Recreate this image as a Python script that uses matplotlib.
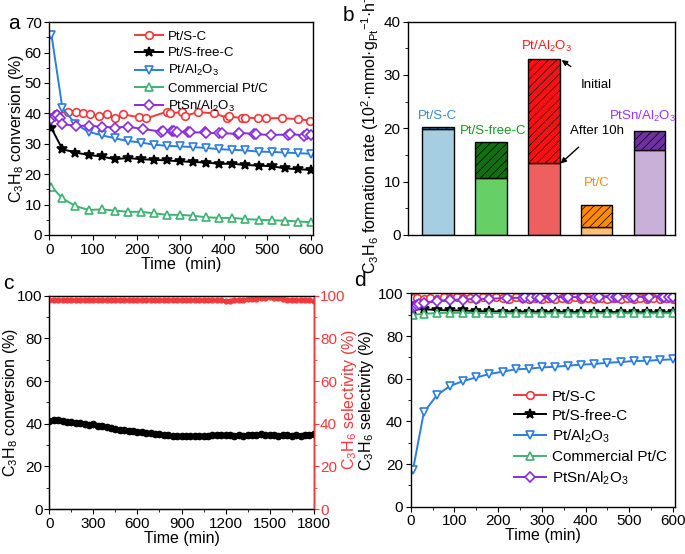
import numpy as np
import matplotlib.pyplot as plt
from matplotlib.ticker import MultipleLocator

plt.rcParams['font.family'] = ['Liberation Sans', 'DejaVu Sans']
plt.rcParams['mathtext.default'] = 'regular'
plt.rcParams['xtick.labelsize'] = 11
plt.rcParams['ytick.labelsize'] = 11
plt.rcParams['axes.labelsize'] = 11.5
plt.rcParams['hatch.linewidth'] = 0.5

# ---- panel a: C3H8 conversion vs time
t_a = [5, 30, 60, 90, 120, 150, 180, 210, 240, 270, 300, 330, 360, 390, 420, 450, 480, 510, 540, 570, 600]
t_psc = [15, 43, 61, 77, 94, 113, 132, 150, 169, 205, 222, 271, 276, 304, 311, 342, 377, 408, 413, 442, 450,
         478, 497, 533, 570, 599]
conv_psc = [39.8, 40.6, 40.6, 40.0, 39.8, 39.2, 39.8, 38.3, 39.7, 38.7, 38.3, 40.6, 40.0, 40.4, 39.2, 40.4,
            40.0, 38.6, 39.0, 38.4, 38.6, 38.4, 38.4, 38.4, 38.1, 37.6]
conv_psfc = [35.1, 28.2, 27.1, 26.3, 25.8, 24.9, 25.3, 24.9, 24.7, 24.5, 24.2, 24.0, 23.8, 23.4, 23.4, 23.0,
             22.8, 22.6, 21.9, 21.6, 21.4]
conv_al = [65.8, 41.7, 36.5, 33.9, 32.8, 31.8, 30.9, 30.4, 29.7, 29.3, 29.1, 28.9, 28.6, 28.2, 28.0, 27.8,
           27.4, 27.3, 27.1, 26.9, 26.7]
conv_com = [15.9, 12.0, 9.5, 8.2, 8.4, 8.0, 7.6, 7.6, 7.1, 6.6, 6.6, 6.3, 5.8, 5.6, 5.6, 5.2, 5.0, 4.8, 4.7,
            4.4, 4.2]
t_ptsn = [5, 13, 18, 24, 30, 61, 90, 121, 151, 180, 216, 256, 260, 281, 286, 294, 319, 322, 357, 360, 389,
          395, 433, 436, 469, 474, 509, 547, 552, 585, 590, 600]
conv_ptsn = [38.1, 39.0, 39.5, 38.4, 36.4, 35.9, 35.9, 35.6, 35.3, 35.6, 34.8, 34.0, 34.2, 34.3, 34.2, 34.0,
             33.9, 33.7, 33.7, 33.5, 33.5, 33.5, 33.2, 33.6, 33.2, 33.1, 32.9, 33.0, 33.2, 32.7, 33.2, 33.0]

# ---- panel b: C3H6 formation rate
cats = ['Pt/S-C', 'Pt/S-free-C', 'Pt/Al$_2$O$_3$', 'Pt/C', 'PtSn/Al$_2$O$_3$']
rate_initial = [20.3, 17.4, 33.0, 5.7, 19.5]
rate_10h = [19.8, 10.7, 13.4, 1.4, 16.0]

# ---- panel c: long-term Pt/S-C
t_c = np.arange(0, 1801, 30)
conv_c = [41.4, 41.8, 42.0, 41.5, 41.0, 40.7, 40.4, 40.3, 39.9, 39.6, 39.8, 39.2, 38.9, 38.5, 38.2, 37.6,
          37.3, 37.2, 36.8, 36.5, 36.3, 36.1, 35.9, 35.6, 35.3, 35.0, 34.8, 34.6, 34.5, 34.4, 34.3, 34.2,
          34.3, 34.3, 34.4, 34.3, 34.4, 34.6, 34.8, 34.7, 34.7, 34.6, 34.5, 34.6, 34.4, 34.7, 34.9, 34.9,
          35.0, 34.9, 34.8, 34.6, 34.5, 34.7, 34.6, 34.5, 34.6, 34.5, 34.6, 34.8, 35.3]
sel_c = [98.0, 98.1, 98.0, 98.0, 98.1, 98.0, 98.0, 98.1, 98.0, 98.0, 98.0, 98.1, 98.0, 98.0, 98.0, 98.1,
         98.0, 98.0, 98.0, 98.1, 98.0, 98.0, 98.1, 98.0, 98.0, 98.0, 98.0, 98.1, 98.0, 98.0, 98.0, 98.1,
         98.0, 97.9, 98.0, 98.0, 98.1, 98.0, 98.0, 98.0, 97.4, 97.8, 98.0, 98.1, 98.2, 98.3, 98.4, 98.6,
         98.9, 99.2, 99.3, 98.8, 99.1, 98.4, 98.2, 98.0, 98.0, 97.9, 98.0, 97.9, 97.8]

# ---- panel d: C3H6 selectivity vs time
t_d = [5, 30, 60, 90, 120, 150, 180, 210, 240, 270, 300, 330, 360, 390, 420, 450, 480, 510, 540, 570, 600]
t_psc_d = [5, 15, 30, 45, 60, 75, 90, 105, 120, 135, 150, 165, 180, 195, 210, 225, 240, 255, 270, 285, 300,
           315, 330, 345, 360, 375, 390, 405, 420, 435, 450, 465, 480, 495, 510, 525, 540, 555, 570, 585, 600]
sel_psc = [97.8, 98.0, 97.4, 98.0, 97.6, 98.1, 97.8, 98.2, 97.7, 98.0, 97.6, 98.1, 97.8, 98.2, 97.9, 97.6,
           98.1, 97.8, 97.3, 97.9, 97.5, 98.0, 97.4, 98.0, 97.6, 98.1, 97.5, 98.0, 97.4, 97.9, 97.3, 97.9,
           97.5, 98.0, 97.4, 97.9, 97.5, 98.0, 97.4, 97.9, 97.5]
sel_psfc = [92.4, 92.6, 92.2, 92.0, 92.0, 91.7, 91.6, 91.5, 91.5, 91.4, 91.4, 91.4, 91.3, 91.3, 91.3, 91.3,
            91.2, 91.2, 91.2, 91.2, 91.2]
sel_al = [17.2, 44.2, 52.3, 56.6, 58.9, 60.6, 62.2, 63.3, 64.4, 64.7, 65.3, 65.6, 66.1, 66.6, 66.9, 67.5,
          67.8, 68.3, 68.4, 68.8, 69.1]
sel_com = [90.0, 90.4, 90.8, 90.9, 90.9, 90.8, 90.8, 90.7, 90.6, 90.7, 90.6, 90.7, 90.7, 90.6, 90.8, 90.6,
           90.7, 90.7, 90.6, 90.7, 90.7]
t_ptsn_d = [5, 10, 15, 20, 30, 60, 90, 120, 150, 180, 220, 258, 262, 275, 290, 295, 320, 325, 355, 360, 390,
            395, 425, 430, 460, 470, 475, 505, 510, 540, 545, 575, 580, 590, 600]
sel_ptsn = [93.4, 94.0, 94.5, 95.0, 95.6, 96.5, 97.0, 97.1, 97.4, 97.5, 97.8, 98.0, 98.1, 98.0, 98.1, 98.0,
            98.2, 98.1, 98.3, 98.2, 98.3, 98.2, 98.4, 98.3, 98.4, 98.3, 98.4, 98.5, 98.4, 98.5, 98.4, 98.5,
            98.5, 98.4, 98.5]

c_red = '#f03a3a'
c_blue = '#2a7de1'
c_green = '#3cb371'
c_purple = '#8a2be2'

fig = plt.figure(figsize=(6.85, 5.54), dpi=100)


def style(ax):
    ax.tick_params(which='both', direction='out', top=False, right=False)
    ax.tick_params(which='major', length=3.5, pad=2)
    ax.tick_params(which='minor', length=2)
    for s in ax.spines.values():
        s.set_linewidth(1.0)


def series(ax, x, y, color, marker, label, ms=5.5, filled=False):
    ax.plot(x, y, color=color, marker=marker, ms=ms, mfc=color if filled else 'white',
            mec=color, mew=1.2, lw=1.4, label=label)


# panel a
ax = fig.add_axes([0.072, 0.576, 0.385, 0.384])
series(ax, t_psc, conv_psc, c_red, 'o', 'Pt/S-C')
series(ax, t_a, conv_psfc, 'black', '*', 'Pt/S-free-C', ms=7, filled=True)
series(ax, t_a, conv_al, c_blue, 'v', 'Pt/Al$_2$O$_3$')
series(ax, t_a, conv_com, c_green, '^', 'Commercial Pt/C')
series(ax, t_ptsn, conv_ptsn, c_purple, 'D', 'PtSn/Al$_2$O$_3$', ms=5)
ax.set_xlim(0, 605)
ax.set_ylim(0, 70)
ax.xaxis.set_major_locator(MultipleLocator(100))
ax.xaxis.set_minor_locator(MultipleLocator(50))
ax.yaxis.set_major_locator(MultipleLocator(10))
ax.yaxis.set_minor_locator(MultipleLocator(5))
ax.set_xlabel('Time  (min)', labelpad=0)
ax.set_ylabel('C$_3$H$_8$ conversion (%)', labelpad=-1)
style(ax)
ax.legend(loc='upper left', bbox_to_anchor=(0.28, 1.015), frameon=False, fontsize=9.5,
          handlelength=2.1, labelspacing=0.3, handletextpad=0.4)
fig.text(0.012, 0.975, 'a', fontsize=15, va='top')

# panel b
ax = fig.add_axes([0.596, 0.576, 0.390, 0.385])
xb = np.arange(1, 6)
low_cols = ['#a6cee3', '#66d066', '#ee6060', '#ffc070', '#c8b0d8']
top_cols = ['#1f78b4', '#107010', '#ff1010', '#ff8c00', '#7030a0']
lab_cols = ['#3a8cc8', '#1a9a1a', '#ff1a1a', '#ff8c1a', '#9933ff']
top_h = [i - a for i, a in zip(rate_initial, rate_10h)]
ax.bar(xb, rate_10h, width=0.6, color=low_cols, edgecolor='black', linewidth=1.0)
ax.bar(xb, top_h, bottom=rate_10h, width=0.6, color=top_cols, edgecolor='black', linewidth=1.0,
       hatch='////')
lab_pos = [(1.0, 22.3), (2.05, 19.4), (3.06, 35.3), (4.01, 9.7), (4.86, 22.3)]
for name, col, (px, py) in zip(cats, lab_cols, lab_pos):
    ax.text(px, py, name, color=col, fontsize=9.5, ha='center', va='center')
ax.annotate('Initial', xy=(3.34, 32.8), xytext=(4.0, 28.1), fontsize=9.5, ha='center', va='center',
            arrowprops=dict(arrowstyle='-|>', color='black', lw=1.0, shrinkA=12, shrinkB=0,
                            mutation_scale=8))
ax.annotate('After 10h', xy=(3.32, 13.4), xytext=(4.0, 19.5), fontsize=9.5, ha='center', va='center',
            arrowprops=dict(arrowstyle='-|>', color='black', lw=1.0, shrinkA=8, shrinkB=0,
                            mutation_scale=8))
ax.set_xlim(0.44, 5.49)
ax.set_ylim(0, 40)
ax.set_xticks([])
ax.yaxis.set_major_locator(MultipleLocator(10))
ax.yaxis.set_minor_locator(MultipleLocator(5))
ax.set_ylabel('C$_3$H$_6$ formation rate (10$^2$·mmol·g$_{Pt}$$^{-1}$·h$^{-1}$)', labelpad=2)
style(ax)
fig.text(0.500, 0.990, 'b', fontsize=15, va='top')

# panel c
ax = fig.add_axes([0.072, 0.081, 0.386, 0.385])
ax2 = ax.twinx()
ax.plot(t_c, conv_c, color='black', marker='o', ms=4.5, lw=2.5)
ax2.plot(t_c, sel_c, color=c_red, marker='o', ms=3.5, lw=2.2)
ax.set_xlim(0, 1800)
ax.set_ylim(0, 100)
ax2.set_ylim(0, 100)
ax.xaxis.set_major_locator(MultipleLocator(300))
ax.xaxis.set_minor_locator(MultipleLocator(150))
ax.yaxis.set_major_locator(MultipleLocator(20))
ax.yaxis.set_minor_locator(MultipleLocator(10))
ax2.yaxis.set_major_locator(MultipleLocator(20))
ax2.yaxis.set_minor_locator(MultipleLocator(10))
ax.set_xlabel('Time (min)', labelpad=0)
ax.set_ylabel('C$_3$H$_8$ conversion (%)', labelpad=-2)
style(ax)
ax.tick_params(axis='y', pad=1.5)
ax2.tick_params(which='both', direction='out', right=True, colors=c_red, pad=1)
ax2.tick_params(which='major', length=3.5)
ax2.tick_params(which='minor', length=2)
ax2.spines['right'].set_color(c_red)
ax2.spines['right'].set_linewidth(1.0)
fig.text(0.004, 0.505, 'c', fontsize=15, va='top')

# panel d (drawn after c so that it sits on top of the red tick labels)
ax = fig.add_axes([0.5996, 0.0854, 0.386, 0.385])
series(ax, t_psc_d, sel_psc, c_red, 'o', 'Pt/S-C')
series(ax, t_d, sel_psfc, 'black', '*', 'Pt/S-free-C', ms=7, filled=True)
series(ax, t_d, sel_al, c_blue, 'v', 'Pt/Al$_2$O$_3$')
series(ax, t_d, sel_com, c_green, '^', 'Commercial Pt/C')
series(ax, t_ptsn_d, sel_ptsn, c_purple, 'D', 'PtSn/Al$_2$O$_3$', ms=5)
ax.set_xlim(0, 605)
ax.set_ylim(0, 100)
ax.xaxis.set_major_locator(MultipleLocator(100))
ax.xaxis.set_minor_locator(MultipleLocator(50))
ax.yaxis.set_major_locator(MultipleLocator(20))
ax.yaxis.set_minor_locator(MultipleLocator(10))
ax.set_xlabel('Time (min)', labelpad=0)
ax.set_ylabel('C$_3$H$_6$ selectivity (%)', labelpad=1)
style(ax)
ax.legend(loc='lower left', bbox_to_anchor=(0.34, 0.03), frameon=False, fontsize=11,
          handlelength=2.1, labelspacing=0.33, handletextpad=0.35)
fig.text(0.517, 0.510, 'd', fontsize=15, va='top')

# the red right-axis label of panel c sits in the gap next to panel d
fig.text(0.5095, 0.278, 'C$_3$H$_6$ selectivity (%)', color=c_red, fontsize=11.5, rotation=90,
         ha='center', va='center')

fig.savefig('out.png', dpi=100)
